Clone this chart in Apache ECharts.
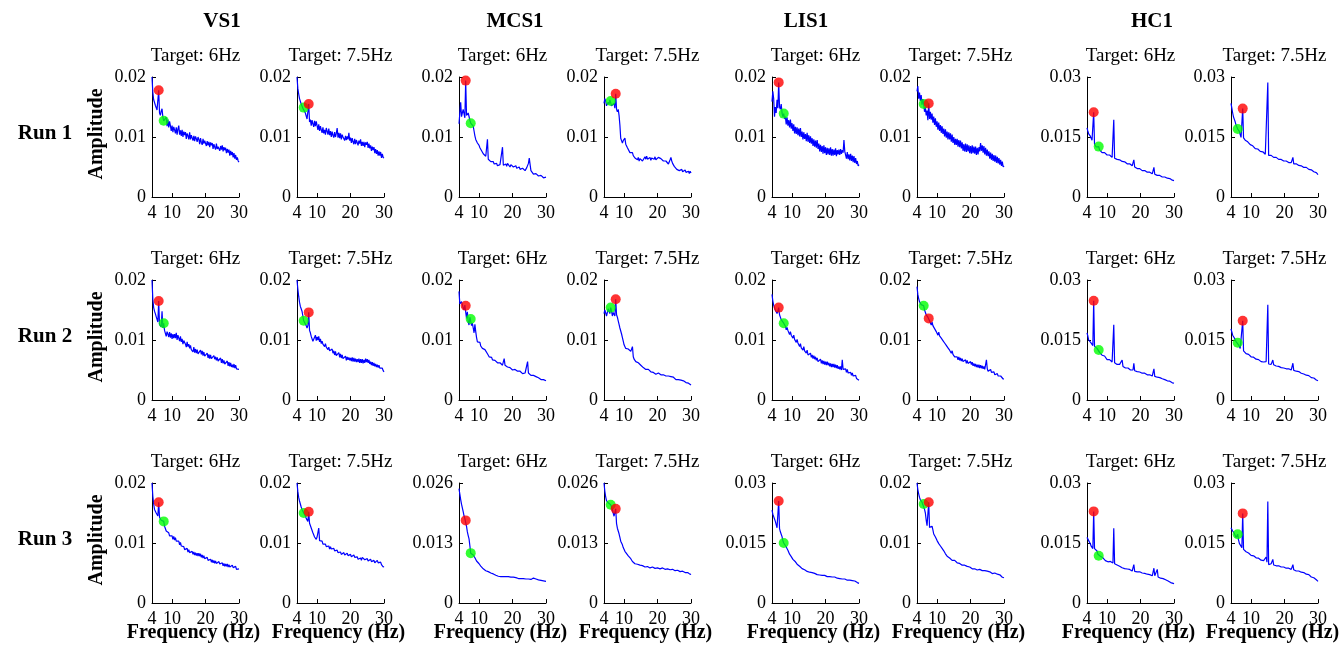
<!DOCTYPE html>
<html><head><meta charset="utf-8">
<script src="https://cdn.jsdelivr.net/npm/echarts@6/dist/echarts.min.js"></script>
<style>html,body{margin:0;padding:0;background:#fff}#c{width:1341px;height:650px}</style>
</head><body><div id="c"></div>
<script>
// ---------- DATA (amplitudes in units of 0.001) ----------
const freqs = [4,4.25,4.5,4.75,5,5.25,5.5,5.75, 6,6.25,6.5,6.75,7,7.25,7.5,7.75, 8,8.25,8.5,8.75,9,9.25,9.5,9.75,
  10,10.25,10.5,10.75,11,11.25,11.5,11.75, 12,12.25,12.5,12.75,13,13.25,13.5,13.75, 14,14.25,14.5,14.75,15,15.25,15.5,15.75,
  16,16.25,16.5,16.75,17,17.25,17.5,17.75, 18,18.25,18.5,18.75,19,19.25,19.5,19.75, 20,20.25,20.5,20.75,21,21.25,21.5,21.75,
  22,22.25,22.5,22.75,23,23.25,23.5,23.75, 24,24.25,24.5,24.75,25,25.25,25.5,25.75, 26,26.25,26.5,26.75,27,27.25,27.5,27.75,
  28,28.25,28.5,28.75,29,29.25,29.5,29.75, 30];
const subjects = ['VS1','MCS1','LIS1','HC1'];
const runs = ['Run 1','Run 2','Run 3'];
const targets = [6, 7.5];
const targetTitles = ['Target: 6Hz','Target: 7.5Hz'];
const xTicks = [4,10,20,30];
const yTicks = [
  [[0,10,20],[0,10,20],[0,10,20],[0,10,20],[0,10,20],[0,10,20],[0,15,30],[0,15,30]],
  [[0,10,20],[0,10,20],[0,10,20],[0,10,20],[0,10,20],[0,10,20],[0,15,30],[0,15,30]],
  [[0,10,20],[0,10,20],[0,13,26],[0,13,26],[0,15,30],[0,10,20],[0,15,30],[0,15,30]]
];

// ---- Run 1 ----
const vs1_r1_6 = [
20.0,17.4,16.2,16.0,15.3,15.1,14.5,14.4, 17.8,14.0,13.6,14.3,14.7,13.3,12.7,12.9,
12.6,13.3,11.8,12.9,11.6,12.6,11.9,11.0, 11.9,10.8,11.7,11.2,10.6,11.6,10.4,11.3,
11.9,10.4,11.1,10.2,11.2,10.0,10.9,10.3, 10.8,9.7,10.6,10.2,9.6,10.8,9.6,10.3,
10.3,9.4,10.2,9.3,10.1,9.7,9.2,10.0, 9.6,8.8,9.8,9.1,8.7,9.7,8.9,9.4,
9.5,8.5,9.3,8.6,9.2,8.3,9.1,8.6, 9.0,8.0,8.8,8.3,7.9,8.9,8.0,8.4,
8.7,7.7,8.5,7.9,8.6,7.6,8.3,7.8, 8.2,7.3,8.0,7.4,7.9,6.9,7.7,7.0,
7.5,6.6,7.3,6.4,7.0,6.2,6.6,6.0, 5.8];
const vs1_r1_75 = [
20.0,18.1,17.2,16.4,16.1,15.5,15.3,14.8, 14.9,14.6,14.0,13.7,13.0,12.9,15.5,12.5,
12.9,11.9,12.8,12.2,11.7,12.7,11.8,12.6, 12.3,11.2,12.1,11.0,11.8,11.2,10.7,11.6,
10.6,11.2,10.4,11.5,11.3,10.4,11.4,10.3, 11.0,10.0,10.9,10.3,9.9,10.8,10.0,10.6,
11.5,9.9,10.7,9.8,10.6,9.6,10.4,10.0, 10.3,9.4,10.2,9.5,10.1,9.6,10.7,9.4,
9.9,9.0,9.8,9.2,8.8,9.7,8.8,9.5, 9.5,8.6,9.4,8.9,9.6,8.5,9.2,8.5,
9.2,8.3,9.1,8.7,9.2,8.2,8.9,8.1, 8.6,7.7,8.4,7.8,8.3,7.3,8.0,7.2,
7.8,6.9,7.6,6.9,7.5,6.5,7.2,6.6, 6.5];
const mcs1_r1_6 = [
12.2,14.0,15.8,13.4,13.6,14.6,13.9,13.2, 19.4,13.6,13.4,14.0,13.8,12.8,12.3,12.6,
12.5,11.8,11.0,10.2,9.6,9.4,9.0,8.8, 8.6,8.2,8.0,7.7,7.6,7.2,7.1,6.9,
6.8,6.6,9.6,6.3,6.1,6.3,5.9,6.1, 5.7,5.9,5.5,5.7,5.3,5.6,5.2,5.5,
5.1,5.4,5.2,5.6,8.3,5.3,5.5,5.2, 5.5,5.1,5.6,5.3,5.5,5.0,5.4,5.2,
5.4,5.0,5.3,4.9,5.2,4.8,5.0,4.7, 5.0,4.6,4.9,4.5,4.8,4.5,4.7,4.4,
4.6,4.9,5.0,5.6,6.5,5.4,4.4,4.2, 4.1,3.8,4.0,3.7,3.9,3.6,3.8,3.5,
3.7,3.4,3.6,3.3,3.5,3.2,3.4,3.3, 3.3];
const mcs1_r1_75 = [
15.6,16.4,16.0,15.2,15.4,15.8,15.4,16.2, 16.0,15.2,15.5,15.0,15.6,14.8,17.2,14.6,
14.2,14.6,13.6,12.0,9.8,9.4,9.0,9.4, 9.3,9.8,8.8,8.5,8.2,8.0,7.9,7.4,
7.6,7.2,7.4,6.9,6.8,6.5,6.7,6.3, 6.2,6.6,6.0,6.4,6.1,6.5,6.0,6.3,
6.2,6.7,6.3,6.8,6.3,6.5,6.1,6.6, 6.1,6.5,6.2,6.4,6.3,6.7,6.2,6.5,
6.2,6.6,6.4,6.7,6.4,6.1,6.3,6.0, 6.2,5.8,6.0,5.7,5.9,5.5,5.8,6.2,
6.6,6.0,5.6,5.3,5.1,4.8,4.9,4.6, 4.5,4.8,4.4,4.7,4.3,4.6,4.2,4.5,
4.2,4.5,4.1,4.4,4.0,4.3,3.9,4.3, 4.0];
const lis1_r1_6 = [
15.9,17.6,16.4,13.4,15.0,14.0,16.2,14.8, 19.1,15.0,14.6,15.5,14.0,13.4,13.9,13.0,
13.4,12.1,13.3,11.9,12.8,11.6,12.9,11.4, 12.3,11.0,12.1,10.6,11.7,10.5,11.6,10.3,
11.4,10.1,11.5,10.0,10.9,9.6,10.8,9.7, 10.5,9.3,10.7,9.2,10.3,9.0,10.1,8.9,
9.8,8.5,9.6,8.4,9.4,8.2,9.5,8.0, 8.9,7.6,8.7,7.5,8.5,7.2,8.6,7.3,
8.3,7.0,8.2,7.1,8.1,7.0,8.3,6.9, 8.0,6.9,7.9,7.0,8.1,6.8,7.8,7.1,
7.9,7.0,8.0,7.2,7.8,7.4,9.5,7.6, 7.4,6.4,7.5,6.3,7.1,6.1,7.2,6.0,
6.9,5.8,6.8,5.7,6.5,5.5,6.0,5.2, 5.4];
const lis1_r1_75 = [
17.6,18.5,16.4,17.4,16.0,17.0,15.4,16.3, 15.5,14.2,15.0,13.6,14.4,12.8,15.6,13.0,
14.2,12.9,13.9,12.4,13.4,12.0,13.1,11.7, 12.6,11.2,12.4,11.0,12.0,10.7,11.8,10.5,
11.4,10.1,11.3,9.9,10.9,9.6,10.8,9.6, 10.6,9.2,10.4,9.0,10.0,8.7,9.7,8.7,
9.7,8.4,9.5,8.3,9.4,8.1,9.1,7.7, 8.8,7.6,8.9,7.5,8.8,7.6,8.6,7.3,
8.5,7.2,8.6,7.3,8.4,7.2,8.4,7.0, 8.2,7.1,8.3,7.6,9.0,7.7,8.6,7.4,
8.5,7.1,8.2,6.9,7.9,6.8,7.6,6.4, 7.4,6.2,7.2,6.0,7.0,5.9,6.9,5.7,
6.7,5.6,6.5,5.4,6.2,5.2,5.9,5.0, 5.2];
const hc1_r1_6 = [
17.3,16.5,15.8,15.4,15.2,14.8,14.2,13.8, 21.2,13.2,12.8,12.5,12.2,12.7,12.6,11.8,
11.3,11.6,11.1,11.3,10.9,11.1,10.7,10.9, 10.5,10.7,10.3,10.5,10.1,10.3,9.9,10.1,
19.3,9.7,9.5,9.7,9.4,9.5,9.2,9.3, 9.0,9.2,8.9,9.0,8.7,8.8,8.5,8.6,
8.3,8.5,8.2,8.3,7.9,8.1,7.8,7.9, 9.3,7.5,7.4,7.5,7.1,7.3,7.0,7.1,
6.7,6.9,6.6,6.8,6.5,6.6,6.3,6.5, 6.2,6.4,6.1,6.2,6.0,6.1,5.8,5.9,
7.4,5.7,5.5,5.6,5.4,5.5,5.3,5.4, 5.2,5.3,5.0,5.1,4.9,5.0,4.8,4.9,
4.7,4.8,4.5,4.6,4.4,4.5,4.2,4.3, 4.1];
const hc1_r1_75 = [
23.4,22.2,21.0,20.0,19.4,18.8,18.0,17.5, 17.0,16.8,16.4,15.6,14.9,15.2,22.1,14.8,
14.6,14.2,14.3,13.9,13.8,13.4,13.5,13.1, 13.0,12.7,12.8,12.4,12.4,12.1,12.3,11.9,
12.0,11.7,11.8,11.4,11.5,11.2,11.3,11.0, 11.0,10.7,10.4,10.2,28.6,10.4,10.6,10.3,
10.4,10.1,10.3,9.9,10.0,9.8,9.9,9.6, 9.7,9.4,9.6,9.3,9.4,9.1,9.3,9.0,
9.1,8.8,9.0,8.7,8.9,8.6,8.8,8.5, 8.6,8.4,9.9,8.3,8.4,8.1,8.3,8.0,
8.1,7.9,8.0,7.7,7.8,7.5,7.7,7.4, 7.5,7.2,7.4,7.1,7.2,6.9,7.0,6.7,
6.8,6.5,6.6,6.3,6.4,6.0,6.1,5.8, 5.6];

// ---- Run 2 ----
const vs1_r2_6 = [
20.0,16.8,15.4,14.8,14.4,13.9,13.6,13.0, 16.5,12.6,12.3,12.2,14.8,12.0,12.8,11.6,
11.3,10.6,11.4,11.0,10.5,11.3,10.4,11.1, 10.2,11.0,10.3,11.0,10.3,11.2,10.0,10.8,
10.3,9.8,10.6,9.7,10.2,9.3,9.9,9.6, 9.3,8.8,9.7,8.9,9.3,8.6,9.1,8.4,
8.5,8.0,8.8,7.9,8.5,7.8,8.4,7.7, 8.0,7.5,8.3,7.6,8.2,7.4,8.0,7.3,
7.6,7.1,7.8,7.0,7.6,6.9,7.5,6.9, 7.2,6.7,7.4,6.8,7.2,6.6,7.1,6.5,
6.8,6.3,7.0,6.2,6.8,6.1,6.6,6.0, 6.3,5.8,6.5,5.7,6.3,5.6,6.2,5.5,
5.9,5.4,6.0,5.3,5.8,5.2,5.5,5.1, 5.1];
const vs1_r2_75 = [
20.0,18.5,17.3,16.3,15.6,15.2,14.8,14.0, 13.2,13.4,13.0,12.4,12.0,12.4,14.6,11.6,
11.2,10.6,10.5,9.8,9.9,9.7,10.8,9.9, 10.5,10.0,10.6,9.7,10.2,9.4,9.8,9.3,
9.5,8.9,9.4,8.8,9.0,8.4,8.8,8.2, 8.4,7.9,8.5,7.8,8.2,7.5,8.1,7.4,
7.7,7.2,7.9,7.1,7.7,7.0,7.5,6.9, 7.2,6.7,7.3,6.6,7.2,6.7,7.1,6.6,
7.0,6.5,7.1,6.4,7.0,6.4,6.9,6.3, 6.8,6.3,6.9,6.2,6.8,6.2,6.8,6.1,
6.7,6.2,6.9,6.3,6.8,6.2,6.7,6.0, 6.4,5.8,6.3,5.7,6.2,5.6,6.0,5.5,
5.9,5.4,5.8,5.3,5.6,5.1,5.3,4.9, 4.7];
const mcs1_r2_6 = [
18.1,16.0,15.8,16.4,16.2,15.4,15.0,15.8, 15.7,13.6,14.7,13.0,12.5,13.8,13.5,12.4,
12.8,12.0,11.2,12.6,11.4,10.4,9.7,9.9, 9.4,9.6,9.0,8.9,8.6,8.8,8.3,8.4,
8.1,8.2,7.7,7.8,7.2,7.4,7.0,7.1, 6.7,6.9,6.5,6.6,6.4,6.5,6.2,6.3,
6.1,6.2,5.9,6.0,5.8,5.9,6.9,5.8, 5.8,5.7,5.5,5.6,5.3,5.4,5.1,5.2,
5.0,5.2,4.9,5.1,5.0,5.1,4.8,4.9, 4.7,4.8,4.6,4.7,4.4,4.6,4.3,4.5,
4.4,4.5,6.4,4.5,4.4,4.3,4.1,4.2, 3.9,4.1,3.8,4.0,3.9,3.8,3.7,3.7,
3.6,3.6,3.4,3.5,3.3,3.4,3.1,3.3, 3.2];
const mcs1_r2_75 = [
14.4,15.0,15.2,14.0,14.2,15.2,15.0,14.4, 15.4,14.8,14.0,14.6,14.8,14.0,16.8,14.2,
13.8,13.2,12.6,12.0,11.8,11.0,10.4,9.8, 9.2,8.9,8.6,8.7,8.4,8.5,8.2,8.3,
8.1,7.8,8.9,7.2,6.8,6.6,6.4,6.3, 6.1,6.2,5.9,6.0,5.8,5.7,5.5,5.4,
5.3,5.4,5.1,5.2,5.0,5.1,4.8,4.9, 4.7,4.8,4.6,4.6,4.4,4.5,4.3,4.4,
4.4,4.5,4.3,4.4,4.2,4.3,4.1,4.2, 4.2,4.2,4.0,4.1,3.9,4.0,3.8,3.9,
3.9,3.9,3.7,3.8,3.6,3.6,3.4,3.5, 3.3,3.4,3.2,3.3,3.3,3.3,3.1,3.2,
3.1,3.1,2.9,3.0,2.8,2.8,2.6,2.7, 2.5];
const lis1_r2_6 = [
17.6,16.5,15.8,15.4,15.0,14.8,14.4,14.8, 15.4,14.2,13.9,13.4,13.3,13.5,12.8,12.6,
12.3,11.7,12.1,11.6,11.5,10.9,11.4,10.8, 10.9,10.3,10.8,10.1,10.2,9.6,10.1,9.5,
9.5,8.9,9.4,8.7,8.9,8.3,8.9,8.2, 8.4,7.8,8.3,7.5,7.8,7.2,7.8,7.1,
7.5,6.9,7.4,6.8,7.2,6.6,7.0,6.4, 6.7,6.2,6.8,6.1,6.6,6.0,6.5,5.9,
6.4,5.8,6.4,5.8,6.2,5.6,6.1,5.5, 6.0,5.5,6.0,5.4,5.9,5.3,5.8,5.2,
5.6,5.1,5.6,5.0,6.7,5.1,5.3,4.9, 5.2,4.6,5.1,4.5,4.7,4.2,4.6,4.1,
4.5,4.0,4.3,3.8,4.1,3.6,3.8,3.4, 3.3];
const lis1_r2_75 = [
18.9,17.6,16.9,16.4,16.1,15.9,15.6,15.6, 15.7,15.0,14.7,14.2,13.9,13.8,13.6,13.2,
13.1,12.5,13.0,12.4,12.5,11.9,11.9,11.4, 11.4,10.8,11.3,10.7,10.9,10.3,10.4,9.9,
10.0,9.5,9.7,9.1,9.2,8.7,8.9,8.3, 8.4,7.8,8.2,7.6,7.8,7.2,7.5,6.9,
7.2,6.7,7.2,6.6,7.0,6.5,6.9,6.4, 6.7,6.2,6.7,6.1,6.6,6.1,6.4,5.9,
6.4,5.9,6.3,5.7,6.1,5.6,6.0,5.5, 5.9,5.4,5.9,5.3,5.8,5.3,5.7,5.2,
5.6,5.1,5.4,6.7,5.2,4.8,5.1,4.7, 5.1,4.6,4.9,4.4,4.7,4.2,4.5,4.1,
4.4,4.0,4.2,3.8,4.0,3.7,3.8,3.5, 3.5];
const hc1_r2_6 = [
16.8,16.0,15.0,14.8,14.6,14.2,13.8,13.6, 24.8,13.4,13.2,13.0,12.9,12.7,12.5,11.9,
11.4,11.6,11.2,11.3,10.8,11.0,10.6,10.7, 10.1,10.4,10.0,10.1,9.6,9.9,9.5,9.6,
18.8,9.3,9.2,9.3,8.9,9.1,8.8,8.9, 8.6,8.7,10.0,8.4,8.1,8.3,8.0,8.1,
7.8,8.0,7.7,7.8,7.5,7.7,7.4,7.5, 9.2,7.3,7.2,7.3,7.1,7.2,6.9,7.0,
6.8,6.9,6.7,6.8,6.6,6.7,6.4,6.5, 6.3,6.4,6.2,6.3,6.1,6.2,6.0,6.0,
7.8,5.9,5.8,5.8,5.7,5.7,5.6,5.6, 5.4,5.5,5.3,5.3,5.0,5.1,4.9,5.0,
4.8,4.8,4.6,4.7,4.5,4.5,4.3,4.3, 4.2];
const hc1_r2_75 = [
17.8,17.0,16.2,15.8,15.5,15.0,14.6,14.5, 14.3,13.8,13.4,12.9,12.5,12.4,19.8,12.3,
12.0,11.9,11.6,11.7,11.3,11.4,11.0,11.1, 10.8,10.9,10.6,10.7,10.4,10.5,10.2,10.2,
10.0,10.1,9.8,9.9,9.6,9.7,9.5,9.5, 9.3,9.4,9.6,9.9,23.8,9.0,8.9,9.0,
8.9,9.0,10.0,8.8,8.6,8.7,8.5,8.5, 8.3,8.4,8.2,8.3,8.1,8.2,8.0,8.0,
7.9,8.0,7.8,7.8,7.7,7.8,7.6,7.6, 7.5,7.6,9.2,7.4,7.3,7.3,7.2,7.2,
7.1,7.1,6.9,6.9,6.7,6.8,6.5,6.5, 6.3,6.4,6.2,6.2,6.1,6.1,5.9,5.9,
5.6,5.7,5.5,5.5,5.3,5.2,5.0,4.9, 4.8];

// ---- Run 3 ----
const vs1_r3_6 = [
20.0,17.8,16.5,15.6,15.3,15.0,14.7,14.5, 16.8,14.3,14.2,13.8,13.6,13.8,13.6,12.8,
12.5,12.0,12.3,11.7,11.7,11.2,11.5,10.9, 11.2,10.6,11.1,10.5,10.9,10.3,10.6,10.0,
10.3,9.7,10.1,9.5,9.7,9.2,9.4,8.9, 9.2,8.7,9.1,8.5,8.9,8.4,8.7,8.2,
8.6,8.1,8.5,8.0,8.4,7.9,8.3,7.8, 8.3,7.8,8.2,7.6,8.0,7.5,7.9,7.4,
7.7,7.3,7.6,7.1,7.4,7.0,7.3,6.8, 7.2,6.7,7.1,6.6,7.0,6.6,6.9,6.5,
6.9,6.5,6.8,6.3,6.7,6.2,6.6,6.1, 6.5,6.1,6.5,6.0,6.4,6.0,6.3,5.9,
6.3,5.9,6.2,5.8,6.1,5.6,5.9,5.5, 5.7];
const vs1_r3_75 = [
20.0,18.6,17.6,17.0,16.5,16.0,15.6,15.3, 15.0,14.8,14.5,14.1,13.9,13.6,15.2,13.3,
13.2,12.5,12.4,11.7,11.6,11.0,11.1,10.6, 11.0,11.3,12.5,10.4,10.5,10.2,10.3,9.8,
9.9,9.5,9.8,9.4,9.6,9.1,9.5,9.0, 9.4,9.0,9.3,8.8,9.1,8.7,8.9,8.5,
8.8,8.4,8.7,8.3,8.5,8.1,8.4,8.0, 8.4,8.0,8.3,7.9,8.3,7.9,8.1,7.7,
8.1,7.7,8.0,7.6,8.0,7.6,7.8,7.4, 7.7,7.3,7.6,7.2,7.5,7.1,7.6,7.3,
7.7,7.2,7.4,7.0,7.4,7.0,7.2,6.9, 7.3,6.9,7.2,6.8,7.1,6.7,7.0,6.7,
7.1,6.7,6.9,6.5,6.8,6.4,6.4,6.0, 6.1];
const mcs1_r3_6 = [
24.8,23.6,22.4,21.4,20.6,19.8,18.9,18.3, 17.9,16.6,15.4,14.6,13.9,12.4,10.8,10.9,
10.7,10.4,10.0,9.8,9.5,9.1,8.8,8.7, 8.5,8.2,8.0,7.9,7.7,7.4,7.3,7.2,
7.0,6.9,6.7,6.8,6.6,6.4,6.5,6.3, 6.2,6.3,6.1,6.2,6.0,5.9,6.0,5.8,
5.8,5.9,5.7,5.9,5.8,5.7,5.8,5.6, 5.7,5.8,5.6,5.7,5.6,5.5,5.6,5.4,
5.5,5.6,5.4,5.6,5.5,5.4,5.5,5.3, 5.4,5.5,5.3,5.5,5.4,5.3,5.4,5.2,
5.2,5.3,5.1,5.2,5.1,5.0,5.1,5.0, 5.3,5.4,5.2,5.3,5.2,5.1,5.2,5.0,
5.0,5.1,4.9,5.0,4.9,4.8,4.8,4.7, 4.7];
const mcs1_r3_75 = [
26.0,24.2,23.0,22.2,22.0,21.7,21.6,21.4, 21.3,20.8,20.2,19.5,18.8,18.6,20.4,17.2,
16.2,15.6,15.0,14.2,13.4,13.0,12.6,12.0, 11.6,11.2,11.0,10.7,10.4,10.2,10.0,9.8,
9.6,9.3,9.0,8.9,8.7,8.5,8.5,8.3, 8.4,8.2,8.1,8.2,8.0,7.9,8.1,7.9,
8.0,7.8,7.9,7.7,7.9,7.8,7.9,7.6, 7.8,7.7,7.8,7.6,7.7,7.5,7.7,7.5,
7.6,7.5,7.7,7.4,7.6,7.4,7.6,7.3, 7.5,7.3,7.5,7.2,7.4,7.2,7.4,7.2,
7.3,7.1,7.3,7.1,7.4,7.0,7.2,7.0, 7.1,6.9,7.1,6.8,7.0,6.8,6.9,6.7,
6.9,6.6,6.8,6.5,6.6,6.4,6.5,6.2, 6.3];
const lis1_r3_6 = [
23.2,22.2,21.6,21.0,20.4,19.6,18.8,18.4, 25.5,18.6,17.8,17.2,16.6,15.6,15.0,15.2,
14.6,14.0,13.6,13.2,12.8,12.2,11.8,11.6, 11.2,10.9,10.6,10.5,10.3,10.0,9.7,9.6,
9.4,9.2,8.9,8.8,8.6,8.5,8.3,8.3, 8.2,8.1,7.9,8.0,7.8,7.7,7.6,7.7,
7.6,7.5,7.3,7.4,7.3,7.2,7.1,7.2, 7.1,7.0,6.9,7.0,6.9,6.8,6.7,6.9,
6.8,6.7,6.6,6.8,6.7,6.6,6.5,6.6, 6.5,6.4,6.3,6.5,6.4,6.3,6.2,6.3,
6.2,6.1,6.0,6.2,6.0,5.9,5.8,6.0, 5.9,5.8,5.7,5.9,5.8,5.7,5.6,5.7,
5.6,5.5,5.4,5.5,5.4,5.3,5.1,5.1, 4.9];
const lis1_r3_75 = [
20.0,18.9,18.2,17.6,17.2,16.9,16.8,16.6, 16.5,15.6,15.0,13.8,12.9,13.2,16.8,12.6,
12.3,12.6,12.8,12.2,11.5,11.3,11.0,10.8, 10.4,10.3,9.9,9.9,9.5,9.4,9.1,9.0,
8.7,8.5,8.2,8.1,7.8,7.8,7.5,7.5, 7.3,7.4,7.1,7.2,7.0,7.1,6.8,6.9,
6.7,6.8,6.5,6.6,6.4,6.5,6.3,6.3, 6.2,6.3,6.1,6.2,6.1,6.1,5.9,6.0,
5.9,5.9,5.7,5.8,5.6,5.7,5.5,5.6, 5.5,5.6,5.4,5.6,5.6,5.7,5.4,5.5,
5.3,5.4,5.2,5.4,5.3,5.3,5.1,5.2, 5.0,5.1,4.9,5.0,4.9,5.0,4.8,4.9,
4.8,4.8,4.6,4.7,4.5,4.5,4.3,4.3, 4.2];
const hc1_r3_6 = [
16.4,16.0,15.6,15.2,14.8,14.2,13.8,13.6, 22.9,13.6,13.4,13.2,13.0,12.2,11.8,11.8,
11.7,11.4,11.2,11.3,11.1,10.8,10.6,10.7, 10.5,10.3,10.2,10.4,10.4,10.1,9.9,10.0,
18.7,9.8,9.7,9.6,9.5,9.3,9.2,9.2, 9.1,8.9,8.8,8.9,8.7,8.6,8.5,8.6,
8.5,8.3,8.2,8.4,8.3,8.1,8.0,8.1, 9.6,7.9,7.8,7.9,7.8,7.7,7.6,7.8,
7.7,7.6,7.5,7.6,7.6,7.4,7.3,7.3, 7.2,7.1,7.0,7.1,7.0,6.9,6.8,6.9,
8.7,6.8,6.7,6.7,8.4,6.5,6.4,6.4, 6.2,6.2,6.1,6.1,6.0,5.9,5.8,5.7,
5.5,5.5,5.3,5.3,5.1,5.0,4.9,4.9, 4.8];
const hc1_r3_75 = [
18.8,18.4,18.0,17.6,17.4,17.0,16.4,16.9, 17.2,15.8,14.9,14.8,14.6,13.8,22.4,13.4,
13.2,13.0,12.8,12.9,12.4,12.5,12.2,12.2, 11.9,12.0,11.7,11.8,11.5,11.6,11.3,11.4,
11.1,11.2,10.9,11.0,10.7,10.8,10.5,10.6, 10.3,10.4,11.5,10.2,25.4,9.6,9.7,9.8,
9.8,9.9,10.9,9.5,9.4,9.5,9.3,9.4, 9.2,9.3,9.1,9.2,9.0,9.1,8.9,9.0,
8.8,8.9,8.7,8.8,8.6,8.7,8.5,8.6, 8.4,8.5,9.6,8.3,8.2,8.2,8.0,8.1,
7.9,8.0,7.8,7.9,7.7,7.7,7.5,7.6, 7.3,7.4,7.2,7.2,7.1,7.1,6.8,6.8,
6.5,6.6,6.3,6.3,6.1,6.0,5.8,5.7, 5.4];

const spectra = [
  [vs1_r1_6, vs1_r1_75, mcs1_r1_6, mcs1_r1_75, lis1_r1_6, lis1_r1_75, hc1_r1_6, hc1_r1_75],
  [vs1_r2_6, vs1_r2_75, mcs1_r2_6, mcs1_r2_75, lis1_r2_6, lis1_r2_75, hc1_r2_6, hc1_r2_75],
  [vs1_r3_6, vs1_r3_75, mcs1_r3_6, mcs1_r3_75, lis1_r3_6, lis1_r3_75, hc1_r3_6, hc1_r3_75]
];

// ---------- LAYOUT ----------
const FONT = '"Liberation Serif","Times New Roman",serif';
const colLeft = [152, 297, 459, 604, 772, 917, 1087, 1231];
const rowTop = [77, 280, 483];
const plotW = 87, plotH = 120;
const headerX = [222, 515, 806, 1152];

const grids = [], xAxes = [], yAxes = [], series = [], graphics = [];
const fmtY = v => String(Number((v / 1000).toFixed(3)));
const centered = { align: 'center', verticalAlign: 'middle', textAlign: 'center', textVerticalAlign: 'middle', fill: '#000' };

for (let r = 0; r < 3; r++) {
  for (let c = 0; c < 8; c++) {
    const i = r * 8 + c;
    const vals = spectra[r][c];
    const yt = yTicks[r][c];
    const target = targets[c % 2], other = targets[1 - (c % 2)];
    grids.push({ left: colLeft[c], top: rowTop[r], width: plotW, height: plotH });
    xAxes.push({
      type: 'value', gridIndex: i, min: 4, max: 30,
      axisLine: { show: true, onZero: false, lineStyle: { color: '#000', width: 1 } },
      axisTick: { show: true, inside: true, length: 4, customValues: xTicks, lineStyle: { color: '#000' } },
      axisLabel: { customValues: xTicks, color: '#000', fontFamily: FONT, fontSize: 18, margin: 7 },
      splitLine: { show: false }
    });
    yAxes.push({
      type: 'value', gridIndex: i, min: 0, max: yt[yt.length - 1],
      axisLine: { show: true, onZero: false, lineStyle: { color: '#000', width: 1 } },
      axisTick: { show: true, inside: true, length: 4, customValues: yt, lineStyle: { color: '#000' } },
      axisLabel: { customValues: yt, formatter: fmtY, color: '#000', fontFamily: FONT, fontSize: 18, margin: 6 },
      splitLine: { show: false }
    });
    series.push({
      type: 'line', xAxisIndex: i, yAxisIndex: i, silent: true, z: 2,
      showSymbol: false, symbol: 'none',
      lineStyle: { color: '#0000ff', width: 1.2 },
      data: freqs.map((f, k) => [f, vals[k]])
    });
    series.push({
      type: 'scatter', xAxisIndex: i, yAxisIndex: i, silent: true, z: 3,
      symbolSize: 10, itemStyle: { color: '#00ff00' },
      data: [[other, vals[freqs.indexOf(other)]]]
    });
    series.push({
      type: 'scatter', xAxisIndex: i, yAxisIndex: i, silent: true, z: 4,
      symbolSize: 10, itemStyle: { color: '#ff0000' },
      data: [[target, vals[freqs.indexOf(target)]]]
    });
    graphics.push({
      type: 'text', x: colLeft[c] + plotW / 2, y: rowTop[r] - 21,
      style: Object.assign({ text: targetTitles[c % 2], font: '19px ' + FONT }, centered)
    });
    if (r === 2) {
      graphics.push({
        type: 'text', x: colLeft[c] + plotW / 2 - 2, y: 633,
        style: Object.assign({ text: 'Frequency (Hz)', font: 'bold 20px ' + FONT }, centered)
      });
    }
  }
  const cy = rowTop[r] + plotH / 2 - 3;
  graphics.push({
    type: 'text', x: 45, y: cy,
    style: Object.assign({ text: runs[r], font: 'bold 21px ' + FONT }, centered)
  });
  graphics.push({
    type: 'text', x: 97, y: cy, rotation: Math.PI / 2,
    style: Object.assign({ text: 'Amplitude', font: 'bold 20px ' + FONT }, centered)
  });
}
subjects.forEach((s, k) => {
  graphics.push({
    type: 'text', x: headerX[k], y: 22,
    style: Object.assign({ text: s, font: 'bold 21px ' + FONT }, centered)
  });
});

const chart = echarts.init(document.getElementById('c'), null, { renderer: 'canvas' });
chart.setOption({
  animation: false,
  backgroundColor: '#fff',
  grid: grids, xAxis: xAxes, yAxis: yAxes, series: series, graphic: graphics
});
</script>
</body></html>
